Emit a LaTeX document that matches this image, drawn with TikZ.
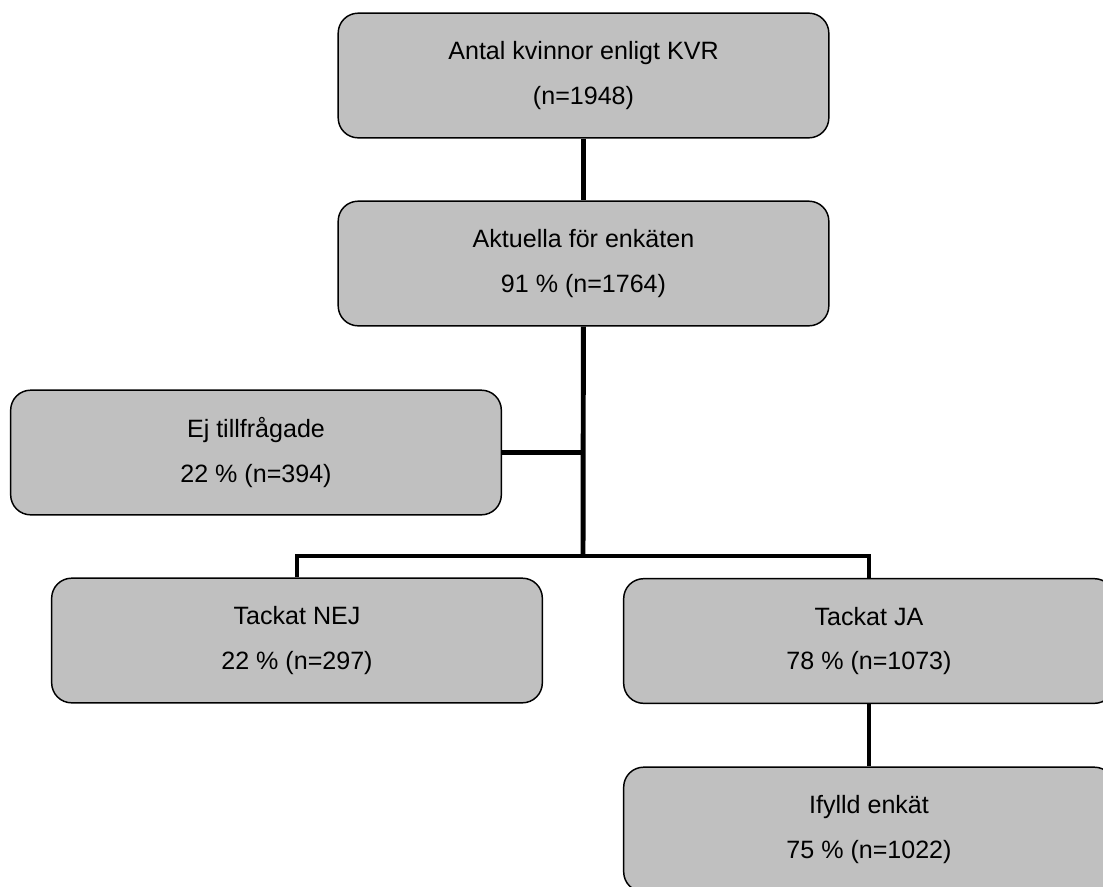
\documentclass[tikz,border=0pt]{standalone}
\usepackage{fontspec}
\setmainfont{Liberation Sans}
\usepackage{tikz}

\tikzset{
  flowbox/.style={draw=black, line width=1.1pt, fill=boxgray, rounded corners=15pt,
    minimum width=368pt, minimum height=93.5pt, align=center,
    font=\fontsize{18.8}{33.5}\selectfont},
  link/.style={line width=3.7pt, line join=miter}
}
\definecolor{boxgray}{RGB}{192,192,192}

\begin{document}
\begin{tikzpicture}[x=0.75pt, y=-0.75pt]
    % Canvas
    \useasboundingbox (0,0) rectangle (1103,886);
    \clip (0,0) rectangle (1103,886);

    % Boxes
    \node[flowbox] (kvr) at (583.5,75.5) {Antal kvinnor enligt KVR\\(n=1948)};
    \node[flowbox] (akt) at (583.5,263.5) {Aktuella för enkäten\\91 \% (n=1764)};
    \node[flowbox] (ej) at (256,452.5) {Ej tillfrågade\\22 \% (n=394)};
    \node[flowbox] (nej) at (297,640.5) {Tackat NEJ\\22 \% (n=297)};
    \node[flowbox] (ja) at (869,641) {Tackat JA\\78 \% (n=1073)};
    \node[flowbox] (ifylld) at (869,829.5) {Ifylld enkät\\75 \% (n=1022)};

    % Branch point
    \coordinate (bus) at (583,556);

    % Connectors
    \draw[link] (kvr) -- (akt);
    \draw[link] (akt) -- (bus);
    \draw[link] (ej.east) -- (ej.east -| bus);
    \draw[link] (nej.north) |- (bus) -| (ja.north);
    \draw[link] (ja) -- (ifylld);
\end{tikzpicture}
\end{document}
